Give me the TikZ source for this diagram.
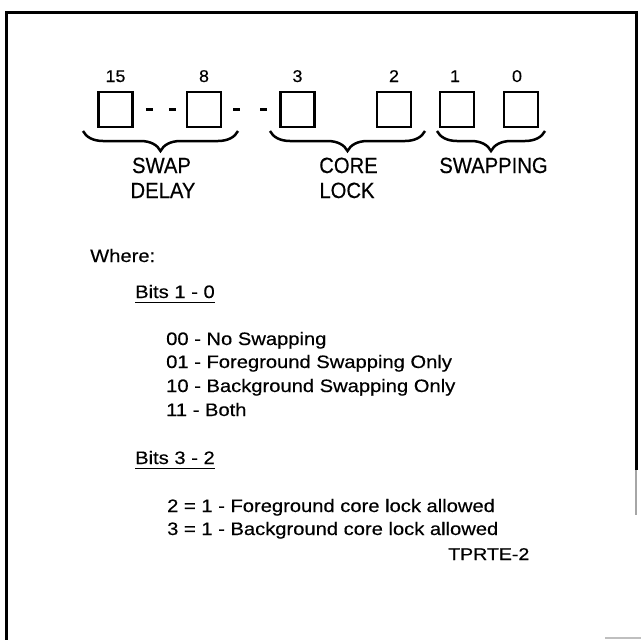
\documentclass[tikz,border=0pt]{standalone}
\usepackage{fontspec}
\setmainfont{Liberation Sans}[FakeBold=0.4]
\newfontfamily\bodyf{Liberation Sans}[FakeStretch=1.12,FakeBold=0.4]
\newfontfamily\numf{Liberation Sans}[FakeStretch=1.05,FakeBold=0.4]
\newfontfamily\labelf{Liberation Sans}[FakeStretch=0.92,FakeBold=0.4]
\newfontfamily\tagf{Liberation Sans}[FakeStretch=1.15,FakeBold=0.6]
\usetikzlibrary{decorations.pathreplacing,calc}
\begin{document}
\begin{tikzpicture}[x=1pt,y=-1pt,
  bitbox/.style={draw,line width=2.6pt,minimum width=34pt,minimum height=35pt,inner sep=0pt},
  bitnum/.style={anchor=base,inner sep=0pt,font=\numf\fontsize{17}{20}\selectfont},
  fieldlabel/.style={anchor=base,inner sep=0pt,font=\labelf\fontsize{22}{26}\selectfont},
  bodytext/.style={anchor=base west,inner sep=0pt,font=\bodyf\fontsize{18}{22}\selectfont},
  tagtext/.style={anchor=base west,inner sep=0pt,font=\tagf\fontsize{17}{20}\selectfont},
  fieldbrace/.style={decorate,decoration={brace,amplitude=20pt},line width=2.5pt},
  dashlink/.style={line width=2.5pt},
  frameline/.style={line width=3pt}]
\useasboundingbox (0,0) rectangle (641,640);
% frame
\coordinate (fbl) at (6,640);
\coordinate (ftl) at (6,12);
\coordinate (ftr) at (636,12);
\coordinate (fr1) at (636,470);
\coordinate (fr2) at (636,515);
\draw[frameline] (fbl) -- (ftl) -- (ftr) -- (fr1);
\draw[line width=2.5pt,black!35] (fr1) -- (fr2);
\coordinate (fs1) at (605,638);
\coordinate (fs2) at (641,638);
\draw[line width=1.5pt,black!25] (fs1) -- (fs2);
% boxes
\node[bitbox] (b15) at (115.5,109.5) {};
\node[bitbox] (b8)  at (204,109.5) {};
\node[bitbox] (b3)  at (297.5,109.5) {};
\node[bitbox] (b2)  at (394,109.5) {};
\node[bitbox] (b1)  at (457,109.5) {};
\node[bitbox] (b0)  at (521,109.5) {};
% bit numbers
\node[bitnum] (n15) at (115.5,82) {15};
\node[bitnum] (n8)  at (204,82) {8};
\node[bitnum] (n3)  at (297.5,82) {3};
\node[bitnum] (n2)  at (394,82) {2};
\node[bitnum] (n1)  at (455,82) {1};
\node[bitnum] (n0)  at (517,82) {0};
% dashed links
\draw[dashlink,dash pattern=on 7pt off 16pt,dash phase=11pt] (b15.east) -- (b8.west);
\draw[dashlink,dash pattern=on 7pt off 20pt,dash phase=16pt] (b8.east) -- (b3.west);
% braces
\coordinate (br1l) at (83,131);  \coordinate (br1r) at (238,131);
\coordinate (br2l) at (270,131); \coordinate (br2r) at (425,131);
\coordinate (br3l) at (437,131); \coordinate (br3r) at (545,131);
\draw[fieldbrace] (br1r) -- (br1l);
\draw[fieldbrace] (br2r) -- (br2l);
\draw[fieldbrace] (br3r) -- (br3l);
% field labels
\node[fieldlabel] (l1a) at (161.5,173) {SWAP};
\node[fieldlabel] (l1b) at (163,198) {DELAY};
\node[fieldlabel] (l2a) at (348.5,173) {CORE};
\node[fieldlabel] (l2b) at (347,198) {LOCK};
\node[fieldlabel] (l3a) at (493.5,173) {SWAPPING};
% description
\node[bodytext] (where) at (90,262) {Where:};
\node[bodytext] (h1) at (135,298) {Bits 1 - 0};
\draw[line width=1.8pt] ($(h1.base west)+(0,4.5)$) -- ($(h1.base east)+(0,4.5)$);
\node[bodytext] (t1) at (166,345) {00 - No Swapping};
\node[bodytext] (t2) at (166,368) {01 - Foreground Swapping Only};
\node[bodytext] (t3) at (166,392) {10 - Background Swapping Only};
\node[bodytext] (t4) at (166,416) {11 - Both};
\node[bodytext] (h2) at (135,464) {Bits 3 - 2};
\draw[line width=1.8pt] ($(h2.base west)+(0,4.5)$) -- ($(h2.base east)+(0,4.5)$);
\node[bodytext] (t5) at (167,512) {2 = 1 - Foreground core lock allowed};
\node[bodytext] (t6) at (167,535) {3 = 1 - Background core lock allowed};
\node[tagtext] (tag) at (448,560) {TPRTE-2};
\end{tikzpicture}
\end{document}
